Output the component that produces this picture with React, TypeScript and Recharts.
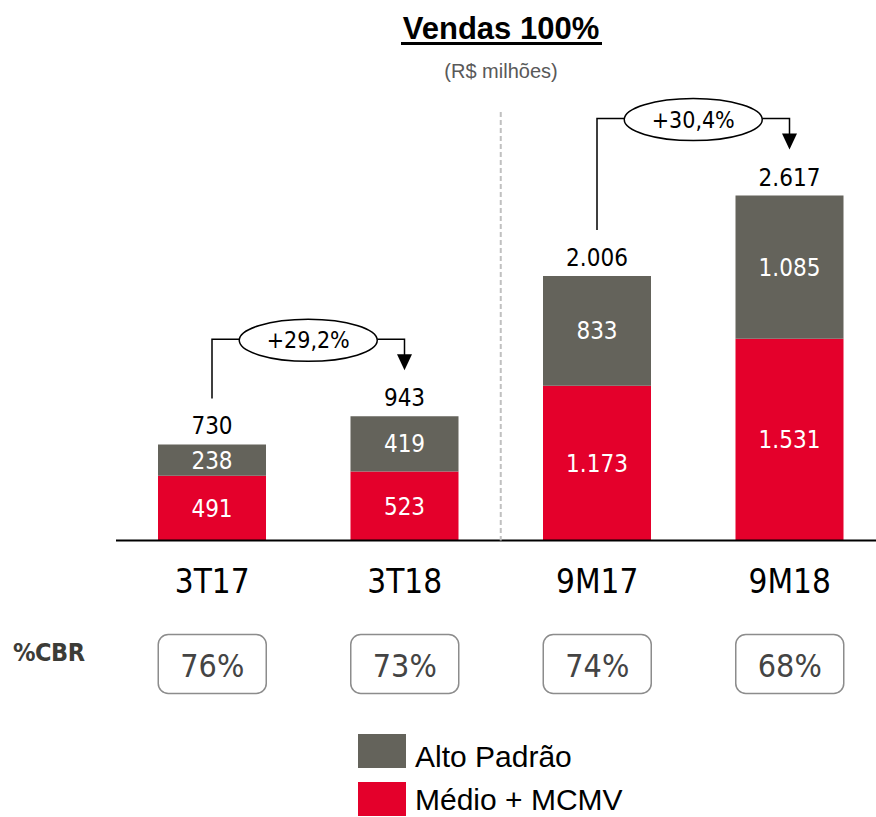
import React from 'react';
import { BarChart, Bar, XAxis, YAxis, LabelList } from 'recharts';

const categories = ['3T17', '3T18', '9M17', '9M18'];
const medioValues = [491, 523, 1173, 1531];
const altoValues = [238, 419, 833, 1085];
const totalValues = [730, 943, 2006, 2617];
const cbrLabels = ['76%', '73%', '74%', '68%'];
const growthLinks = [
  { from: 0, to: 1, label: '+29,2%' },
  { from: 2, to: 3, label: '+30,4%' },
];

const RED = '#e4002b';
const GRAY = '#64635b';
const TAHOMA = '"DejaVu Sans Condensed", "DejaVu Sans", sans-serif';
const ARIAL = '"Liberation Sans", Arial, sans-serif';

const legendItems = [
  { name: 'Alto Padrão', color: GRAY },
  { name: 'Médio + MCMV', color: RED },
];

const data = categories.map((cat, i) => ({
  cat,
  medio: medioValues[i],
  alto: altoValues[i],
}));

// pt-BR thousands separator
const fmt = (v: number) =>
  v >= 1000 ? `${Math.floor(v / 1000)}.${String(v % 1000).padStart(3, '0')}` : String(v);

// bar geometry collected while the labels render (in index order)
const barPos: { cx: number; top: number; base: number }[] = [];

const MedioLabel = (props: any) => {
  const { x, y, width, height, index } = props;
  return (
    <text
      x={x + width / 2}
      y={y + height / 2 + 8.5}
      textAnchor="middle"
      fontFamily={TAHOMA}
      fontSize={24}
      fill="#fff"
    >
      {fmt(medioValues[index])}
    </text>
  );
};

const AltoLabel = (props: any) => {
  const { x, y, width, height, index } = props;
  const cx = x + width / 2;
  const k = height / altoValues[index];
  const base = y + height + medioValues[index] * k;
  barPos[index] = { cx, top: y, base };

  const link = growthLinks.find((g) => g.to === index);
  let bracket = null;
  if (link && barPos[link.from]) {
    const from = barPos[link.from];
    const hy = y - 77;
    const tip = y - 46;
    const mid = (from.cx + cx) / 2;
    const rx = 69;
    bracket = (
      <g>
        <path
          d={`M${from.cx},${from.top - 46} V${hy} H${mid - rx} M${mid + rx},${hy} H${cx} V${tip - 15}`}
          fill="none"
          stroke="#000"
          strokeWidth={1.5}
        />
        <polygon points={`${cx - 7.5},${tip - 16} ${cx + 7.5},${tip - 16} ${cx},${tip}`} fill="#000" />
        <ellipse cx={mid} cy={hy + 1} rx={rx} ry={21} fill="#fff" stroke="#000" strokeWidth={1.5} />
        <text x={mid} y={hy + 9} textAnchor="middle" fontFamily={TAHOMA} fontSize={23} fill="#000">
          {link.label}
        </text>
      </g>
    );
  }

  // dashed separator between the quarter and the nine-month groups
  let separator = null;
  if (index === 2 && barPos[1]) {
    const sx = (barPos[1].cx + cx) / 2;
    separator = (
      <line x1={sx} x2={sx} y1={112} y2={base} stroke="#c0c0c0" strokeWidth={2} strokeDasharray="5 3" />
    );
  }

  return (
    <g>
      {separator}
      <text x={cx} y={y + height / 2 + 8.5} textAnchor="middle" fontFamily={TAHOMA} fontSize={24} fill="#fff">
        {fmt(altoValues[index])}
      </text>
      <text x={cx} y={y - 10} textAnchor="middle" fontFamily={TAHOMA} fontSize={24} fill="#000">
        {fmt(totalValues[index])}
      </text>
      {bracket}
    </g>
  );
};

const CatTick = (props: any) => {
  const { x, y, payload } = props;
  const i = payload.index;
  return (
    <g>
      <text x={x} y={y + 52} textAnchor="middle" fontFamily={TAHOMA} fontSize={33} fill="#000">
        {payload.value}
      </text>
      <rect x={x - 54} y={y + 94} width={108} height={59} rx={10} fill="#fff" stroke="#8c8c8c" strokeWidth={1.5} />
      <text x={x} y={y + 136} textAnchor="middle" fontFamily={TAHOMA} fontSize={32} fill="#444">
        {cbrLabels[i]}
      </text>
    </g>
  );
};

export default function App() {
  return (
    <div
      style={{
        position: 'absolute',
        left: 0,
        top: 0,
        width: 876,
        height: 817,
        overflow: 'hidden',
        background: '#fff',
      }}
    >
      <svg width={876} height={817} style={{ position: 'absolute', left: 0, top: 0 }}>
        <text x={501} y={39} textAnchor="middle" fontFamily={ARIAL} fontWeight="bold" fontSize={31} fill="#000">
          Vendas 100%
        </text>
        <rect x={401} y={42} width={201} height={3} fill="#000" />
        <text x={501} y={78} textAnchor="middle" fontFamily={ARIAL} fontSize={20} fill="#595959">
          (R$ milhões)
        </text>
        <text x={13} y={661} fontFamily={TAHOMA} fontWeight="bold" fontSize={25} fill="#3c3c37" letterSpacing={-0.5}>
          %CBR
        </text>
        {legendItems.map((item, i) => (
          <g key={item.name}>
            <rect x={358} y={734 + i * 48} width={48} height={34} fill={item.color} />
            <text x={415} y={767 + i * 43} fontFamily={ARIAL} fontSize={30} fill="#000">
              {item.name}
            </text>
          </g>
        ))}
      </svg>
      <div style={{ position: 'absolute', left: 0, top: 0 }}>
        <BarChart width={886} height={817} data={data} margin={{ top: 145, right: 0, left: 116, bottom: 116.5 }}>
          <XAxis
            dataKey="cat"
            height={160}
            interval={0}
            tickSize={0}
            tickMargin={0}
            tickLine={false}
            axisLine={{ stroke: '#000', strokeWidth: 2 }}
            tick={(p: any) => <CatTick {...p} />}
          />
          <YAxis hide domain={[0, 3000]} />
          <Bar dataKey="medio" stackId="a" fill={RED} barSize={108} isAnimationActive={false}>
            <LabelList dataKey="medio" content={(p: any) => <MedioLabel {...p} />} />
          </Bar>
          <Bar dataKey="alto" stackId="a" fill={GRAY} barSize={108} isAnimationActive={false}>
            <LabelList dataKey="alto" content={(p: any) => <AltoLabel {...p} />} />
          </Bar>
        </BarChart>
      </div>
    </div>
  );
}
